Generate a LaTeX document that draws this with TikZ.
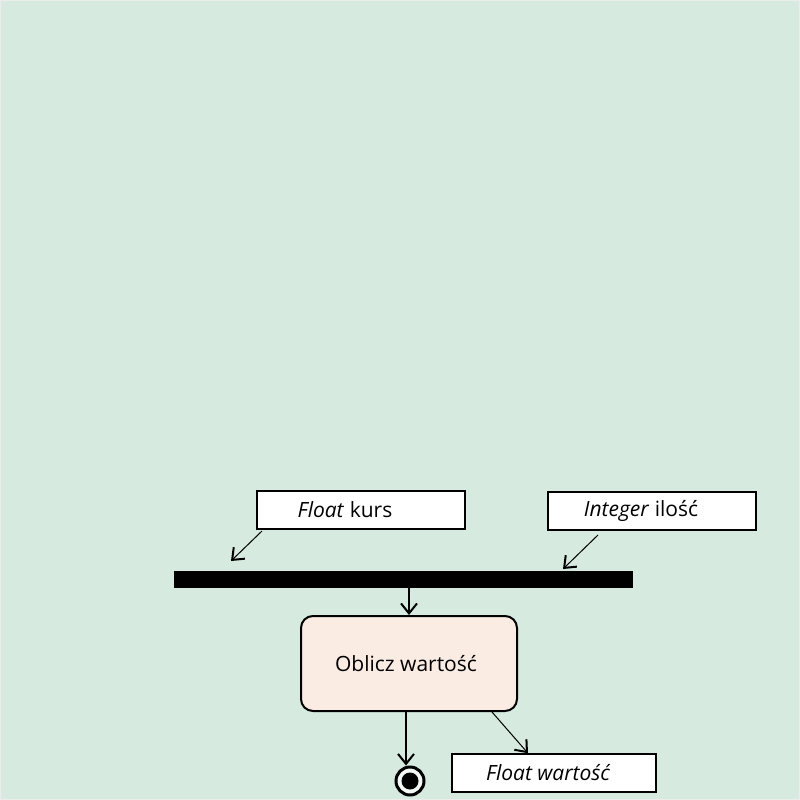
\documentclass[tikz,border=0pt]{standalone}
\usepackage{fontspec}
\setmainfont{Open Sans}
\usetikzlibrary{arrows.meta}
\definecolor{bgc}{HTML}{D6EADF}
\definecolor{actc}{HTML}{FAECE3}
\begin{document}
\begin{tikzpicture}[x=1pt,y=-1pt,
  objbox/.style={draw=black, line width=1.5pt, fill=white, minimum width=208pt, minimum height=38pt, inner sep=0pt, font=\fontsize{21}{25}\selectfont},
  actbox/.style={draw=black, line width=2pt, fill=actc, rounded corners=12pt, minimum width=216pt, minimum height=95pt, inner sep=0pt, font=\fontsize{21}{25}\selectfont},
  flow/.style={line width=1.5pt, -{Straight Barb[length=10pt,width=16pt,line width=2pt]}}]
\fill[bgc] (0,0) rectangle (800,800);
\draw[white!85!gray, line width=1pt] (0.5,0.5) rectangle (799.5,799.5);
\useasboundingbox (0,0) rectangle (800,800);
\node[objbox] (kurs) at (361,510) {\itshape Float\/\upshape{} kurs\hspace*{32pt}};
\node[objbox] (ilosc) at (652,511) {\raisebox{-3pt}{\itshape Integer\/\upshape{} ilość}\hspace*{22pt}};
\node[fill=black, minimum width=459pt, minimum height=17pt, inner sep=0pt] (bar) at (403.5,579.5) {};
\node[actbox] (act) at (409,663.5) {Oblicz wartość\hspace*{6pt}};
\node[objbox, minimum width=204pt] (wart) at (554,773) {\raisebox{-2pt}{\itshape Float wartość}\hspace*{12pt}};
\node[circle, draw=black, fill=white!70!bgc, line width=3pt, minimum size=28pt, inner sep=0pt] (fin) at (410,781) {};
\node[circle, fill=black, minimum size=17pt, inner sep=0pt] (fincore) at (fin.center) {};
\coordinate (k1) at (262,531);
\coordinate (k2) at (231,561);
\coordinate (i1) at (598,535);
\coordinate (i2) at (563,569);
\draw[flow, line width=1pt] (k1) -- (k2);
\draw[flow, line width=1pt] (i1) -- (i2);
\draw[flow] (bar.south -| act.north) -- (act.north);
\draw[flow] ([xshift=-3pt]act.south) -- ([xshift=-4pt]fin.north);
\draw[flow, line width=1pt] ([xshift=83pt]act.south) -- ([xshift=-26pt]wart.north);
\end{tikzpicture}
\end{document}
